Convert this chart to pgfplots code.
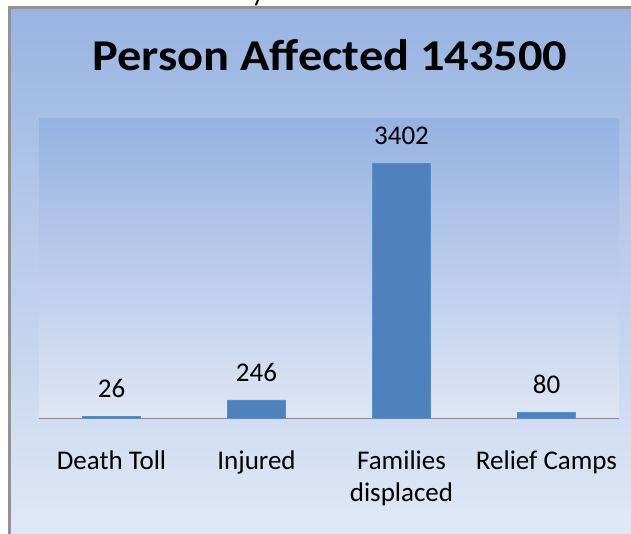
\documentclass[border=0pt]{standalone}
\usepackage{pgfplots}
\pgfplotsset{compat=1.18}
\usepackage{fontspec}
\setmainfont{Carlito}
\definecolor{barfill}{HTML}{4F81BD}
\definecolor{baredge}{HTML}{5B8DC9}
\definecolor{outtop}{HTML}{98B4E2}
\definecolor{outbot}{HTML}{E0E8F5}
\definecolor{pltop}{HTML}{96B2E1}
\definecolor{plbot}{HTML}{DFE6F4}
\definecolor{bordergray}{HTML}{929292}
\definecolor{axisgray}{HTML}{878787}
\begin{document}
\begin{tikzpicture}
\useasboundingbox (0pt,0pt) rectangle (631pt,534pt);
\fill[white] (0pt,0pt) rectangle (631pt,534pt);
\begin{scope}
\clip (0pt,527pt) rectangle (631pt,534pt);
\node[font=\fontsize{27}{32}\selectfont, anchor=base] at (258pt,532pt) {y};
\end{scope}
\shade[top color=outtop, bottom color=outbot] (9pt,0pt) rectangle (631pt,527pt);
\draw[bordergray, line width=2.8pt] (9.4pt,0pt) -- (9.4pt,526.6pt) -- (631pt,526.6pt);
\node[font=\fontsize{44}{50}\selectfont\bfseries, anchor=base, xscale=1.1] at (330pt,463.3pt) {Person Affected 143500};
\begin{axis}[
  at={(39pt,115.7pt)}, anchor=south west,
  width=580pt, height=300pt, scale only axis,
  xmin=-0.5, xmax=3.5, ymin=0, ymax=4000,
  axis background/.style={shade, top color=pltop, bottom color=plbot},
  axis x line=bottom, axis line style={-, axisgray, line width=1.5pt},
  hide y axis,
  xtick={0,1,2,3},
  xticklabels={Death Toll, Injured, {\parbox[t]{150pt}{\centering Families\\displaced}}, Relief Camps},
  xticklabel style={font=\fontsize{27}{32}\selectfont, anchor=base, yshift=-51pt, inner sep=0pt},
  major tick length=0pt,
  ytick=\empty,
  ybar, bar width=58pt,
  /pgf/number format/1000 sep={},
  /pgf/number format/assume math mode=true,
  nodes near coords,
  every node near coord/.append style={font=\fontsize{27}{32}\selectfont, anchor=base, yshift=18.5pt, text=black, inner sep=0pt},
]
\addplot[fill=barfill, draw=baredge, line width=0.6pt, bar shift=0pt] coordinates {(0,26) (1,246) (2,3402) (3,80)};
\end{axis}
\end{tikzpicture}
\end{document}
